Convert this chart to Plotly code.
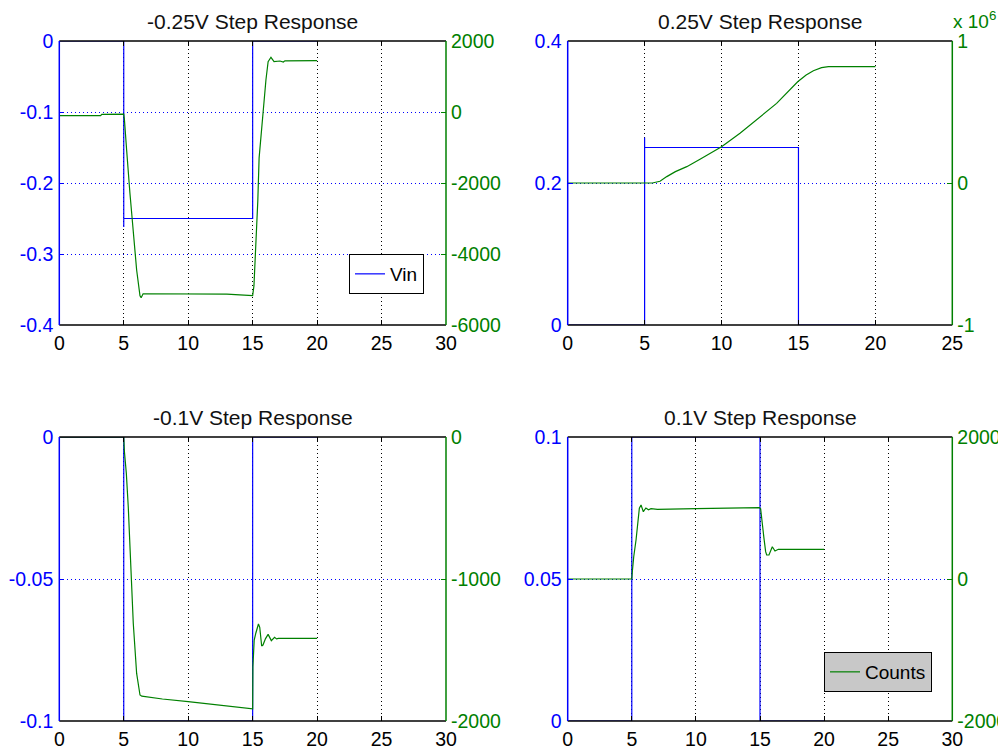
import plotly.graph_objects as go

# ---------------- data ----------------
# -0.25 V step
t_vin_m025 = [0, 5, 5, 5, 15, 15, 20]
vin_m025 = [0, 0, -0.262, -0.25, -0.25, 0, 0]
t_cnt_m025 = [0, 3.2, 3.3, 5.0, 5.05, 5.1, 5.23, 5.48, 5.74, 6.0, 6.26, 6.35, 6.5, 10, 13, 14, 14.9,
              15.0, 15.1, 15.2, 15.3, 15.4, 15.5, 15.7, 15.87, 16.03, 16.2, 16.42, 16.66, 16.9, 17.12, 17.38, 17.5, 20]
cnt_m025 = [-104, -104, -65, -60, -200, -500, -1100, -2290, -3417, -4450, -5175, -5230, -5120, -5118, -5130, -5150, -5160,
            -5170, -4900, -4200, -3450, -2500, -1300, -370, 290, 900, 1417, 1541, 1417, 1430, 1437, 1409, 1440, 1445]

# +0.25 V step
t_vin_p025 = [0, 5, 5, 5, 15, 15, 20]
vin_p025 = [0, 0, 0.264, 0.25, 0.25, 0, 0]
t_cnt_p025 = [0, 5.5, 6.0, 6.44, 7.0, 7.74, 8.6, 9.3, 10.0, 11.2, 12.5, 13.58, 14.95, 15.5, 15.97, 16.5, 16.95, 20]
cnt_p025 = [0, 0, 12000, 45000, 80000, 115000, 167000, 210000, 256000, 350000, 467000, 561000, 713000,
            760000, 791000, 812000, 819000, 819000]

# -0.1 V step
t_vin_m01 = [0, 5, 5, 15, 15, 20]
vin_m01 = [0, 0, -0.1, -0.1, 0, 0]
t_cnt_m01 = [0, 5.0, 5.05, 5.2, 5.35, 5.56, 5.74, 6.0, 6.26, 6.4, 8, 10, 12, 14, 15.0,
             15.02, 15.12, 15.25, 15.45, 15.55, 15.7, 15.8, 16.0, 16.2, 16.45, 16.7, 16.85, 17.0, 20]
cnt_m01 = [0, 0, -100, -256, -491, -961, -1313, -1665, -1817, -1825, -1845, -1864, -1885, -1905, -1915,
           -1617, -1430, -1380, -1317, -1340, -1472, -1465, -1420, -1390, -1434, -1411, -1422, -1418, -1418]

# +0.1 V step
t_vin_p01 = [0, 5, 5, 15, 15, 20]
vin_p01 = [0, 0, 0.1, 0.1, 0, 0]
t_cnt_p01 = [0, 5.0, 5.04, 5.15, 5.33, 5.46, 5.59, 5.72, 5.9, 6.1, 6.3, 6.5, 7, 10, 13, 14.95,
             15.05, 15.15, 15.31, 15.44, 15.52, 15.7, 15.83, 15.96, 16.17, 16.43, 20]
cnt_p01 = [0, 0, 100, 314, 549, 784, 996, 1042, 948, 1000, 974, 990, 981, 990, 1000, 1004,
           990, 807, 573, 385, 338, 338, 408, 455, 394, 418, 418]

titles = ["-0.25V Step Response", "0.25V Step Response", "-0.1V Step Response", "0.1V Step Response"]

# ---------------- styling / layout ----------------
# the page body has an 8px margin; the figure is sized to end exactly at the window edge
OFF = 8
WIN_W, WIN_H = 1006, 751
W, H = WIN_W - OFF, WIN_H - OFF
BLUE = "#0000ff"
GREEN = "#008000"
FONT = "Liberation Sans, Arial, sans-serif"
TICK_SIZE = 19.5
TITLE_SIZE = 21
LEGEND_SIZE = 19
DOT = "1px,3px"

# panel frames in window pixels
col_px = [(59.3, 446.0), (567.7, 952.3)]
row_px = [(41.0, 325.0), (437.0, 721.0)]
title_top_px = [8.0, 404.0]


def fx(px):
    return (px - OFF) / W


def fy(py):
    return 1 - (py - OFF) / H


def xdom(c):
    return [fx(col_px[c][0]), fx(col_px[c][1])]


def ydom(r):
    return [fy(row_px[r][1]), fy(row_px[r][0])]


panels = [
    dict(r=0, c=0, tv=t_vin_m025, v=vin_m025, tc=t_cnt_m025, cn=cnt_m025,
         xr=[0, 30], xt=[0, 5, 10, 15, 20, 25, 30],
         yl=[-0.4, 0], ylt=[-0.4, -0.3, -0.2, -0.1, 0], ylx=["-0.4", "-0.3", "-0.2", "-0.1", "0"],
         yr=[-6000, 2000], yrt=[-6000, -4000, -2000, 0, 2000], yrx=["-6000", "-4000", "-2000", "0", "2000"]),
    dict(r=0, c=1, tv=t_vin_p025, v=vin_p025, tc=t_cnt_p025, cn=cnt_p025,
         xr=[0, 25], xt=[0, 5, 10, 15, 20, 25],
         yl=[0, 0.4], ylt=[0, 0.2, 0.4], ylx=["0", "0.2", "0.4"],
         yr=[-1e6, 1e6], yrt=[-1e6, 0, 1e6], yrx=["-1", "0", "1"]),
    dict(r=1, c=0, tv=t_vin_m01, v=vin_m01, tc=t_cnt_m01, cn=cnt_m01,
         xr=[0, 30], xt=[0, 5, 10, 15, 20, 25, 30],
         yl=[-0.1, 0], ylt=[-0.1, -0.05, 0], ylx=["-0.1", "-0.05", "0"],
         yr=[-2000, 0], yrt=[-2000, -1000, 0], yrx=["-2000", "-1000", "0"]),
    dict(r=1, c=1, tv=t_vin_p01, v=vin_p01, tc=t_cnt_p01, cn=cnt_p01,
         xr=[0, 30], xt=[0, 5, 10, 15, 20, 25, 30],
         yl=[0, 0.1], ylt=[0, 0.05, 0.1], ylx=["0", "0.05", "0.1"],
         yr=[-2000, 2000], yrt=[-2000, 0, 2000], yrx=["-2000", "0", "2000"]),
]

fig = go.Figure()
layout = dict(
    width=W, height=H, margin=dict(l=0, r=0, t=0, b=0, pad=0, autoexpand=False),
    paper_bgcolor="white", plot_bgcolor="white",
    font=dict(family=FONT, size=TICK_SIZE, color="black"),
    annotations=[], shapes=[], showlegend=True,
)

for i, p in enumerate(panels):
    xi = i + 1
    yl_i = 2 * i + 1
    yr_i = 2 * i + 2
    xname = "x" if xi == 1 else f"x{xi}"
    ylname = "y" if yl_i == 1 else f"y{yl_i}"
    yrname = f"y{yr_i}"
    xkey = "xaxis" if xi == 1 else f"xaxis{xi}"
    ylkey = "yaxis" if yl_i == 1 else f"yaxis{yl_i}"
    yrkey = f"yaxis{yr_i}"

    fig.add_trace(go.Scatter(
        x=p["tv"], y=p["v"], mode="lines", name="Vin",
        line=dict(color=BLUE, width=1.2),
        xaxis=xname, yaxis=ylname,
        showlegend=(i == 0), legend="legend",
    ))
    fig.add_trace(go.Scatter(
        x=p["tc"], y=p["cn"], mode="lines", name="Counts",
        line=dict(color=GREEN, width=1.2),
        xaxis=xname, yaxis=yrname,
        showlegend=(i == 3), legend="legend2",
    ))

    layout[xkey] = dict(
        domain=xdom(p["c"]), anchor=ylname, range=p["xr"], automargin=False,
        tickmode="array", tickvals=p["xt"], ticktext=[str(v) for v in p["xt"]],
        showline=False, mirror="ticks",
        ticks="inside", ticklen=5, tickcolor="black", ticklabelstandoff=4,
        showgrid=True, gridcolor="black", gridwidth=1, griddash=DOT,
        zeroline=False, tickfont=dict(color="black", size=TICK_SIZE),
    )
    layout[ylkey] = dict(
        domain=ydom(p["r"]), anchor=xname, range=p["yl"], automargin=False,
        tickmode="array", tickvals=p["ylt"], ticktext=p["ylx"],
        showline=False,
        ticks="inside", ticklen=5, tickcolor=BLUE, ticklabelstandoff=5,
        showgrid=True, gridcolor=BLUE, gridwidth=1, griddash=DOT,
        zeroline=False, tickfont=dict(color=BLUE, size=TICK_SIZE),
    )
    layout[yrkey] = dict(
        overlaying=ylname, anchor=xname, side="right", range=p["yr"], automargin=False,
        tickmode="array", tickvals=p["yrt"], ticktext=p["yrx"],
        showline=False,
        ticks="inside", ticklen=5, tickcolor=GREEN, ticklabelstandoff=4,
        showgrid=False, zeroline=False, tickfont=dict(color=GREEN, size=TICK_SIZE),
    )

    # axes frame drawn above the traces (black top/bottom, blue left, green right)
    xd = f"{xname} domain"
    yd = f"{ylname} domain"
    for (xa, xb, ya, yb, col) in [(0, 1, 0, 0, "black"), (0, 1, 1, 1, "black"),
                                  (0, 0, 0, 1, BLUE), (1, 1, 0, 1, GREEN)]:
        layout["shapes"].append(dict(
            type="line", xref=xd, yref=yd, x0=xa, x1=xb, y0=ya, y1=yb,
            line=dict(color=col, width=1.5), layer="above",
        ))

    x0, x1 = col_px[p["c"]]
    layout["annotations"].append(dict(
        text=titles[i], xref="paper", yref="paper",
        x=fx((x0 + x1) / 2), y=fy(title_top_px[p["r"]]),
        xanchor="center", yanchor="top", showarrow=False,
        font=dict(family=FONT, size=TITLE_SIZE, color="#111111"),
    ))

# exponent label for the 0.25 V panel right axis
layout["annotations"].append(dict(
    text="x 10<sup>6</sup>", xref="paper", yref="paper",
    x=fx(951), y=fy(34), xanchor="left", yanchor="bottom", showarrow=False,
    font=dict(family=FONT, size=19, color=GREEN),
))

layout["legend"] = dict(
    x=fx(424), y=fy(254), xanchor="right", yanchor="top",
    bgcolor="white", bordercolor="black", borderwidth=1,
    font=dict(family=FONT, size=LEGEND_SIZE, color="black"),
)
layout["legend2"] = dict(
    x=fx(932), y=fy(652), xanchor="right", yanchor="top",
    bgcolor="#c8c8c8", bordercolor="black", borderwidth=1,
    font=dict(family=FONT, size=LEGEND_SIZE, color="black"),
)

fig.update_layout(**layout)
fig.write_html("out.html")
